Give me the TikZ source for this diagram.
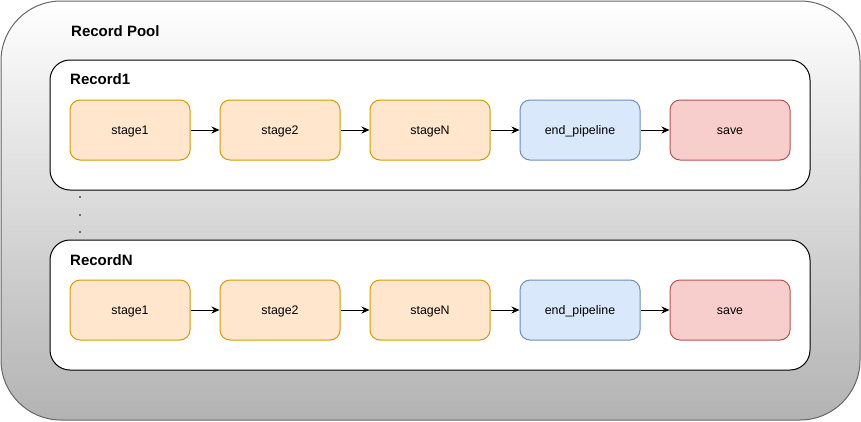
\documentclass[tikz,border=0pt]{standalone}
\usepackage{fontspec}
\setmainfont{Liberation Sans}
\usetikzlibrary{arrows.meta}
\definecolor{orfill}{HTML}{FFE6CC}
\definecolor{ordraw}{HTML}{D79B00}
\definecolor{blfill}{HTML}{DAE8FC}
\definecolor{bldraw}{HTML}{6C8EBF}
\definecolor{rdfill}{HTML}{F8CECC}
\definecolor{rddraw}{HTML}{B85450}
\definecolor{poolbot}{HTML}{B3B3B3}
\definecolor{pooldraw}{HTML}{666666}
\tikzset{
  stagebox/.style={draw=ordraw, fill=orfill, rounded corners=10pt, minimum width=120pt, minimum height=60pt, line width=1pt, font=\fontsize{12.4}{14}\selectfont, inner sep=0pt, text height=9pt, text depth=0pt},
  endbox/.style={stagebox, draw=bldraw, fill=blfill},
  savebox/.style={stagebox, draw=rddraw, fill=rdfill},
  recordbox/.style={draw=black, fill=white, rounded corners=20pt, minimum width=760pt, minimum height=130pt, line width=1pt, inner sep=0pt},
  titletext/.style={font=\fontsize{15}{17}\selectfont\bfseries, anchor=west, inner sep=0pt},
  flow/.style={-{Stealth[length=8pt,width=7pt]}, line width=1pt, draw=black},
  dotmark/.style={circle, fill=black, inner sep=0pt, minimum size=1.6pt}
}
\begin{document}
\begin{tikzpicture}[x=1pt,y=-1pt]
\useasboundingbox (0,0) rectangle (861,421);
\path[draw=pooldraw, line width=1pt, top color=white, bottom color=poolbot, rounded corners=60pt] (1,1) rectangle (860,420);
\node[titletext] (pooltitle) at (71,31) {Record Pool};

\node[recordbox] (rec1) at (430,125) {};
\node[titletext] (rec1title) at (70,79) {Record1};
\node[stagebox] (a1) at (130,130) {stage1};
\node[stagebox] (a2) at (280,130) {stage2};
\node[stagebox] (a3) at (430,130) {stageN};
\node[endbox] (a4) at (580,130) {end\_pipeline};
\node[savebox] (a5) at (730,130) {save};
\draw[flow] (a1) -- (a2);
\draw[flow] (a2) -- (a3);
\draw[flow] (a3) -- (a4);
\draw[flow] (a4) -- (a5);

\node[dotmark] (d1) at (80,197) {};
\node[dotmark] (d2) at (80,215) {};
\node[dotmark] (d3) at (80,232) {};

\node[recordbox] (recN) at (430,305) {};
\node[titletext] (recNtitle) at (70,260) {RecordN};
\node[stagebox] (b1) at (130,310) {stage1};
\node[stagebox] (b2) at (280,310) {stage2};
\node[stagebox] (b3) at (430,310) {stageN};
\node[endbox] (b4) at (580,310) {end\_pipeline};
\node[savebox] (b5) at (730,310) {save};
\draw[flow] (b1) -- (b2);
\draw[flow] (b2) -- (b3);
\draw[flow] (b3) -- (b4);
\draw[flow] (b4) -- (b5);
\end{tikzpicture}
\end{document}
